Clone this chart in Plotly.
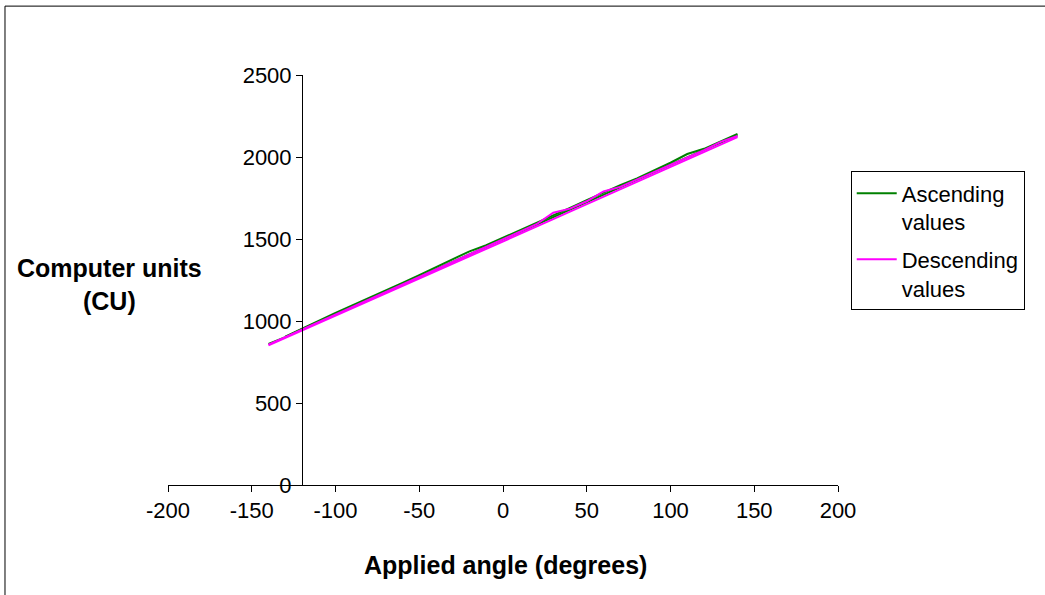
import plotly.graph_objects as go

# Applied angle (degrees)
angles = [-140, -130, -120, -110, -100, -90, -80, -70, -60, -50, -40, -30, -20, -10, 0,
          10, 20, 30, 40, 50, 60, 70, 80, 90, 100, 110, 120, 130, 140]

# Ascending trials (computer units)
asc_1 = [None, 905, 955, 1003, 1050, 1095, 1140, 1188, 1232, 1280, 1328, 1378, 1425, 1462, 1507,
         1552, 1598, 1645, 1690, 1737, 1785, 1828, 1870, 1916, 1965, 2018, 2050, 2095, 2140]
asc_2 = [860, 902, 950, 996, 1042, 1088, 1133, 1180, 1225, 1270, 1318, 1364, 1410, 1452, 1498,
         1542, 1588, 1634, 1680, 1725, 1772, 1817, 1862, 1907, 1953, 1998, 2043, 2088, 2132]

# Descending trials (computer units)
desc_1 = [856, 902, 948, 994, 1040, 1085, 1130, 1176, 1222, 1268, 1313, 1360, 1405, 1450, 1498,
          1545, 1590, 1660, 1685, 1730, 1790, 1818, 1862, 1905, 1950, 1995, 2042, 2092, 2128]
desc_2 = [852, 897, 942, 987, 1032, 1077, 1122, 1168, 1213, 1258, 1303, 1349, 1394, 1440, 1485,
          1530, 1576, 1621, 1667, 1712, 1757, 1803, 1848, 1894, 1939, 1984, 2030, 2075, 2121]

# Axis tick labels
x_ticks = [-200, -150, -100, -50, 0, 50, 100, 150, 200]
x_tick_labels = ["-200", "-150", "-100", "-50", "0", "50", "100", "150", "200"]
y_ticks = [0, 500, 1000, 1500, 2000, 2500]
y_tick_labels = ["0", "500", "1000", "1500", "2000", "2500"]

FONT = "Arial, Liberation Sans, sans-serif"
GREEN = "#008000"
MAGENTA = "#FF00FF"

fig = go.Figure()
for i, ys in enumerate([asc_1, asc_2]):
    fig.add_trace(go.Scatter(x=angles, y=ys, mode="lines", name="Ascending<br>values",
                             legendgroup="asc", showlegend=(i == 0),
                             line=dict(color=GREEN, width=2)))
for i, ys in enumerate([desc_1, desc_2]):
    fig.add_trace(go.Scatter(x=angles, y=ys, mode="lines", name="Descending<br>values",
                             legendgroup="desc", showlegend=(i == 0),
                             line=dict(color=MAGENTA, width=2)))

fig.update_layout(
    width=1045, height=595,
    margin=dict(l=168, r=207, t=75, b=110),
    paper_bgcolor="white", plot_bgcolor="white",
    font=dict(family=FONT, size=22, color="black"),
    xaxis=dict(range=[-200, 200], tickvals=x_ticks, ticktext=x_tick_labels,
               showgrid=False, zeroline=False,
               showline=True, linecolor="black", linewidth=1,
               ticks="outside", ticklen=6, tickcolor="black",
               tickfont=dict(size=22)),
    yaxis=dict(range=[0, 2500], tickvals=y_ticks, ticktext=y_tick_labels,
               showgrid=False, zeroline=False,
               showline=True, linecolor="black", linewidth=1,
               anchor="free", position=0.2,
               ticks="outside", ticklen=6, tickcolor="black",
               tickfont=dict(size=22)),
    legend=dict(x=1.019, y=0.765, xanchor="left", yanchor="top",
                bordercolor="black", borderwidth=1, bgcolor="white",
                font=dict(size=22), valign="top", tracegroupgap=6,
                itemwidth=40),
    showlegend=True,
)

fig.add_annotation(text="<b>Computer units<br>(CU)</b>", xref="paper", yref="paper",
                   x=-0.088, y=0.49, xanchor="center", yanchor="middle",
                   showarrow=False, font=dict(size=25, family=FONT))
fig.add_annotation(text="<b>Applied angle (degrees)</b>", xref="paper", yref="paper",
                   x=0.503, y=-0.195, xanchor="center", yanchor="middle",
                   showarrow=False, font=dict(size=25, family=FONT))

fig.add_shape(type="rect", xref="paper", yref="paper",
              x0=-0.2433, x1=2.0, y0=-0.6, y1=1.168,
              line=dict(color="black", width=1), layer="below")

fig.write_html("out.html", config={"displayModeBar": False},
               post_script="document.body.style.margin='0';")
